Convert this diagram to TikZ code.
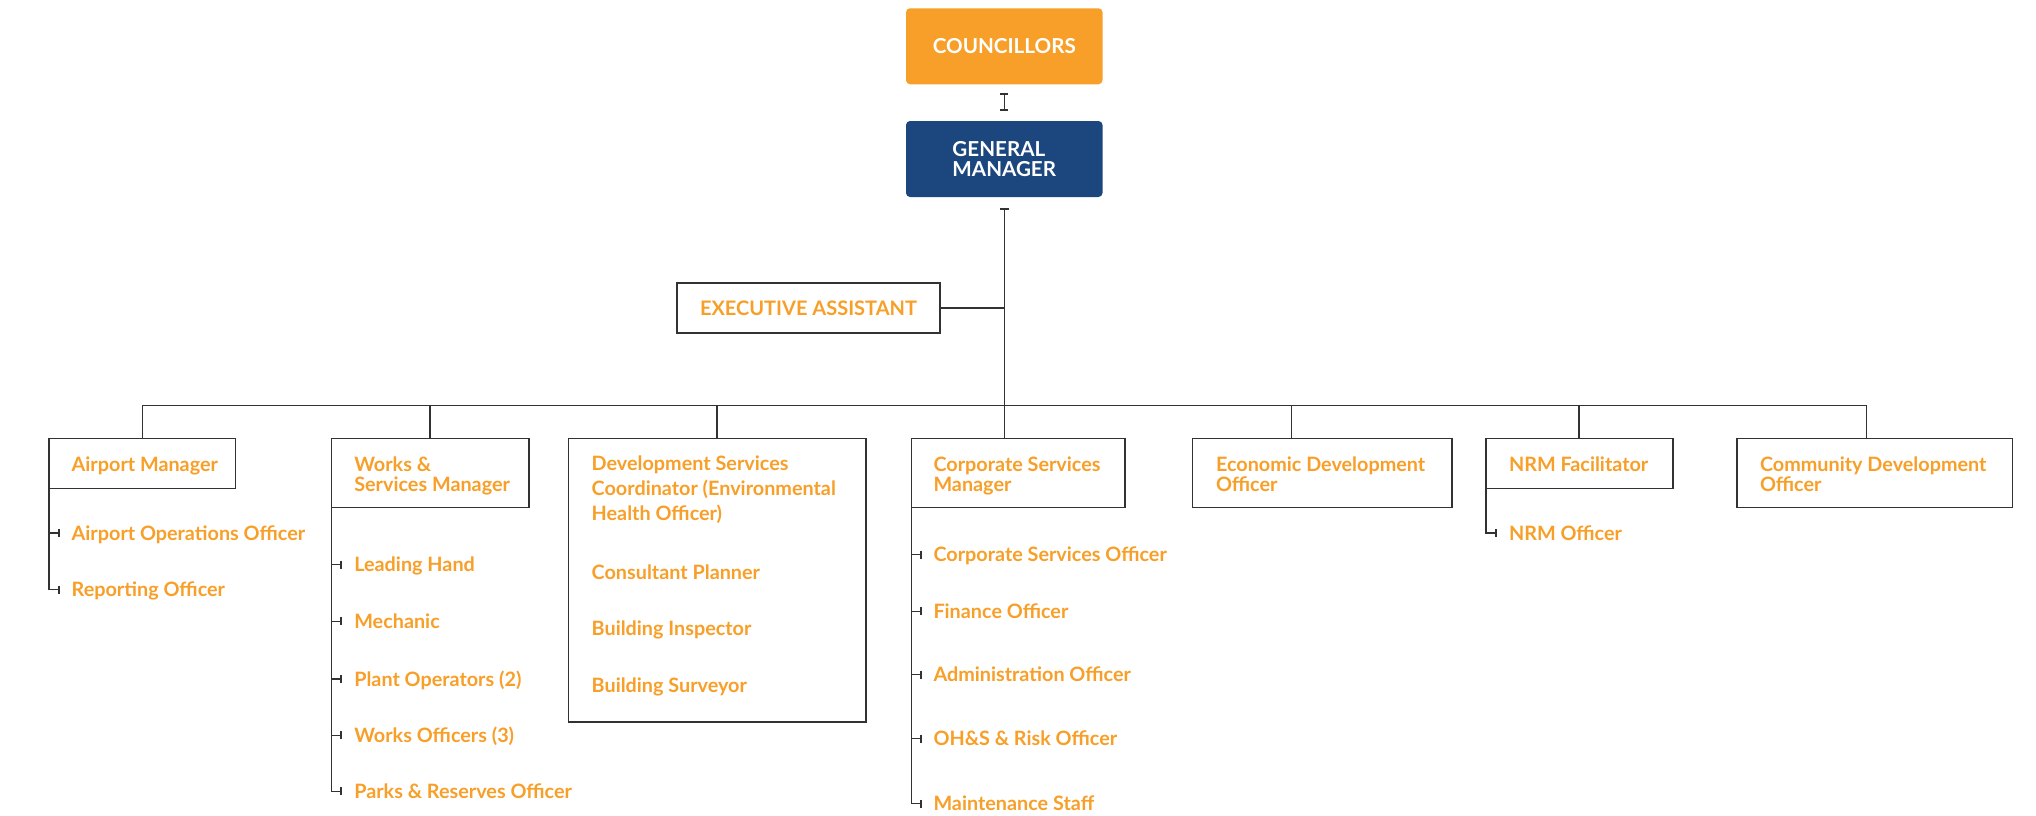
\documentclass[tikz,border=0pt]{standalone}
\usepackage{fontspec}
\setmainfont{Lato}
\usetikzlibrary{arrows.meta}
\definecolor{cOrange}{RGB}{247,159,40}
\definecolor{cBlue}{RGB}{27,70,126}
\definecolor{cLine}{RGB}{50,50,50}
\begin{document}
\begin{tikzpicture}[x=0.5pt,y=-0.5pt,
  every node/.style={inner sep=0pt, outer sep=0pt},
  headbox/.style={rounded corners=2pt, minimum width=98.25pt, minimum height=38pt,
    text=white, align=left, font=\bfseries\fontsize{10.3pt}{10pt}\selectfont},
  unitbox/.style={draw=cLine, line width=0.75pt, anchor=north west},
  roletext/.style={text=cOrange, align=left, font=\bfseries\fontsize{9.9pt}{10.25pt}\selectfont},
  devhead/.style={roletext, font=\bfseries\fontsize{9.9pt}{12.5pt}\selectfont},
  link/.style={draw=cLine, line width=0.75pt},
  stub/.style={link, -{Bar[width=4pt, line width=1pt]}},
]
\useasboundingbox (0,0) rectangle (2036,815);

% --- top of the chart ---
\node[headbox, fill=cOrange] (coun) at (1004.25,46.25) {COUNCILLORS};
\node[headbox, fill=cBlue] (gm) at (1004.25,159) {GENERAL\\MANAGER};
\node[unitbox, minimum width=131.5pt, minimum height=25pt, text=cOrange,
      font=\bfseries\fontsize{10pt}{10pt}\selectfont] (ea) at (677,283) {EXECUTIVE ASSISTANT};

\draw[link, {Bar[width=4pt, line width=1pt]}-{Bar[width=4pt, line width=1pt]}, shorten <=4.35pt, shorten >=5pt] (coun.south) -- (gm.north);

% --- unit boxes ---
\node[unitbox, minimum width=93.35pt,  minimum height=25.1pt]   (airport) at (49,438.5) {};
\node[unitbox, minimum width=98.65pt,  minimum height=34.6pt]   (works)   at (331.7,438.5) {};
\node[unitbox, minimum width=148.65pt, minimum height=141.75pt] (dev)     at (568.7,438.5) {};
\node[unitbox, minimum width=106.85pt, minimum height=34.6pt]   (corp)    at (911.3,438.5) {};
\node[unitbox, minimum width=129.65pt, minimum height=34.6pt]   (econ)    at (1192.7,438.5) {};
\node[unitbox, minimum width=93.5pt,   minimum height=25.1pt]   (nrm)     at (1486,438.5) {};
\node[unitbox, minimum width=137.85pt, minimum height=34.6pt]   (comm)    at (1737,438.5) {};

% --- unit titles ---
\node[roletext, anchor=base west]  (airport-t) at (71.7,471) {Airport Manager};
\node[roletext, anchor=north west] (works-t)   at (354.3,456.5) {Works \&\\Services Manager};
\node[devhead,  anchor=north west] (dev-t)     at (591.7,456.2) {Development Services\\Coordinator (Environmental\\Health Officer)};
\node[roletext, anchor=north west] (corp-t)    at (933.5,456.5) {Corporate Services\\Manager};
\node[roletext, anchor=north west] (econ-t)    at (1216,456.5) {Economic Development\\Officer};
\node[roletext, anchor=base west]  (nrm-t)     at (1509,471) {NRM Facilitator};
\node[roletext, anchor=north west] (comm-t)    at (1760,456.5) {Community Development\\Officer};

% --- roles listed inside the development box ---
\node[roletext, anchor=base west] (dv1) at (591.7,579)   {Consultant Planner};
\node[roletext, anchor=base west] (dv2) at (591.7,635.7) {Building Inspector};
\node[roletext, anchor=base west] (dv3) at (591.7,692.3) {Building Surveyor};

% --- staff under each manager ---
\node[roletext, anchor=base west] (ao1) at (71.7,540)   {Airport Operations Officer};
\node[roletext, anchor=base west] (ao2) at (71.7,596.7) {Reporting Officer};

\node[roletext, anchor=base west] (w1) at (354.3,571.7) {Leading Hand};
\node[roletext, anchor=base west] (w2) at (354.3,628.3) {Mechanic};
\node[roletext, anchor=base west] (w3) at (354.3,686)   {Plant Operators (2)};
\node[roletext, anchor=base west] (w4) at (354.3,742.3) {Works Officers (3)};
\node[roletext, anchor=base west] (w5) at (354.3,798.3) {Parks \& Reserves Officer};

\node[roletext, anchor=base west] (c1) at (933.5,561.7) {Corporate Services Officer};
\node[roletext, anchor=base west] (c2) at (933.5,618.3) {Finance Officer};
\node[roletext, anchor=base west] (c3) at (933.5,681.7) {Administration Officer};
\node[roletext, anchor=base west] (c4) at (933.5,745.7) {OH\&S \& Risk Officer};
\node[roletext, anchor=base west] (c5) at (933.5,810.7) {Maintenance Staff};

\node[roletext, anchor=base west] (n1) at (1509,540) {NRM Officer};

% stub ends, just left of each staff title
\foreach \s in {ao1,ao2,w1,w2,w3,w4,w5,c1,c2,c3,c4,c5,n1}
  \coordinate (\s-s) at ([shift={(-12,-7)}]\s.base west);

% --- reporting lines ---
\draw[link, {Bar[width=4.5pt, line width=1.2pt]}-, shorten <=5.5pt] (gm.south) -- (corp.north -| gm.south);
\draw[link] (ea.east) -- (ea.east -| gm.south);

\coordinate (d1) at (142.3,405.3);
\coordinate (d2) at (430,405.3);
\coordinate (d3) at (717,405.3);
\coordinate (d5) at (1291.7,405.3);
\coordinate (d6) at (1579,405.3);
\coordinate (d7) at (1866.7,405.3);
\draw[link] (d1) -- (d7);
\draw[link] (d1) -- (d1 |- airport.north);
\draw[link] (d2) -- (d2 |- works.north);
\draw[link] (d3) -- (d3 |- dev.north);
\draw[link] (d5) -- (d5 |- econ.north);
\draw[link] (d6) -- (d6 |- nrm.north);
\draw[link] (d7) -- (d7 |- comm.north);

% staff lines
\draw[stub] (airport.south west) |- (ao2-s);
\draw[stub] (airport.south west |- ao1-s) -- (ao1-s);

\draw[stub] (works.south west) |- (w5-s);
\foreach \s in {w1,w2,w3,w4}
  \draw[stub] (works.south west |- \s-s) -- (\s-s);

\draw[stub] (corp.south west) |- (c5-s);
\foreach \s in {c1,c2,c3,c4}
  \draw[stub] (corp.south west |- \s-s) -- (\s-s);

\draw[stub] (nrm.south west) |- (n1-s);
\end{tikzpicture}
\end{document}
